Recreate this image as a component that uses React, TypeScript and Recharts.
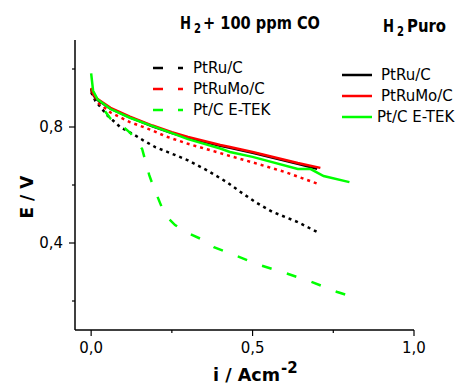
import { LineChart, Line, XAxis, YAxis, Customized } from 'recharts'

// [i (A cm-2), E (V)]
const ptRuPuro = [
  [0, 0.932], [0.008, 0.908], [0.02, 0.893], [0.06, 0.863], [0.12, 0.833], [0.19, 0.802],
  [0.25, 0.779], [0.3, 0.763], [0.4, 0.735], [0.43, 0.728], [0.5, 0.711], [0.64, 0.673], [0.7, 0.656],
]
const ptRuMoPuro = [
  [0, 0.935], [0.008, 0.91], [0.02, 0.896], [0.06, 0.866], [0.12, 0.836], [0.19, 0.805],
  [0.25, 0.782], [0.3, 0.766], [0.4, 0.738], [0.43, 0.731], [0.5, 0.714], [0.64, 0.676], [0.71, 0.659],
]
const ptEtekPuro = [
  [0, 0.985], [0.006, 0.925], [0.02, 0.895], [0.06, 0.862], [0.12, 0.832], [0.19, 0.803],
  [0.25, 0.779], [0.3, 0.758], [0.4, 0.726], [0.43, 0.714], [0.5, 0.697], [0.64, 0.655],
  [0.68, 0.655], [0.72, 0.631], [0.8, 0.61],
]
const ptRuCO = [
  [0, 0.92], [0.013, 0.89], [0.05, 0.84], [0.09, 0.8], [0.135, 0.772], [0.16, 0.755],
  [0.2, 0.73], [0.25, 0.708], [0.3, 0.685], [0.36, 0.65], [0.42, 0.61], [0.46, 0.578],
  [0.51, 0.54], [0.56, 0.508], [0.64, 0.472], [0.7, 0.438],
]
const ptRuMoCO = [
  [0, 0.925], [0.02, 0.885], [0.06, 0.85], [0.12, 0.817], [0.19, 0.788], [0.23, 0.768],
  [0.3, 0.742], [0.4, 0.71], [0.43, 0.7], [0.5, 0.678], [0.6, 0.645], [0.7, 0.605],
]
const ptEtekCO = [
  [0, 0.93], [0.02, 0.89], [0.059, 0.83], [0.1, 0.8], [0.121, 0.78], [0.139, 0.755],
  [0.158, 0.724], [0.18, 0.634], [0.192, 0.597], [0.22, 0.52], [0.238, 0.486], [0.26, 0.462],
  [0.3, 0.434], [0.34, 0.414], [0.38, 0.386], [0.44, 0.36], [0.52, 0.325], [0.6, 0.297],
  [0.68, 0.267], [0.76, 0.232], [0.8, 0.218],
]

const xTicks = [0, 0.25, 0.5, 0.75, 1.0]
const xMajor = [0, 0.5, 1.0]
const yTicks = [0.2, 0.4, 0.6, 0.8, 1.0]
const yMajor = [0.4, 0.8]

const legendCO = ['PtRu/C', 'PtRuMo/C', 'Pt/C E-TEK']
const legendPuro = ['PtRu/C', 'PtRuMo/C', 'Pt/C E-TEK']
const colors = ['#000000', '#ff0000', '#00ff00']

const toRows = (pts: number[][]) => pts.map(([i, e]) => ({ i, e }))
const fmt = (v: number) => v.toFixed(1).replace('.', ',')
const isMajor = (list: number[], v: number) => list.some((m) => Math.abs(m - v) < 1e-6)

const FONT = '"DejaVu Sans", sans-serif'

function XTick({ x, y, payload }: any) {
  const major = isMajor(xMajor, payload.value)
  return (
    <g>
      <line x1={x} x2={x} y1={y} y2={y + (major ? 6 : 3)} stroke="#000" strokeWidth={1.2} />
      {major && (
        <text x={x} y={y + 18} textAnchor="middle" dominantBaseline="central" fontSize={15} fontFamily={FONT} fill="#000">
          {fmt(payload.value)}
        </text>
      )}
    </g>
  )
}

function YTick({ x, y, payload }: any) {
  const major = isMajor(yMajor, payload.value)
  return (
    <g>
      <line x1={x} x2={x - (major ? 6 : 3)} y1={y} y2={y} stroke="#000" strokeWidth={1.2} />
      {major && (
        <text x={x - 12} y={y} textAnchor="end" dominantBaseline="central" fontSize={15} fontFamily={FONT} fill="#000">
          {fmt(payload.value)}
        </text>
      )}
    </g>
  )
}

function Annotations() {
  return (
    <g fontFamily={FONT} fill="#000" fontWeight="bold">
      {/* title over the CO legend */}
      <text x={180} y={29} fontSize={17} textLength={11} lengthAdjust="spacingAndGlyphs">H</text>
      <text x={194} y={33} fontSize={14} textLength={7} lengthAdjust="spacingAndGlyphs">2</text>
      <text x={203} y={29} fontSize={17} textLength={117} lengthAdjust="spacingAndGlyphs">+ 100 ppm CO</text>
      {/* title over the pure H2 legend */}
      <text x={383} y={32} fontSize={17} textLength={11} lengthAdjust="spacingAndGlyphs">H</text>
      <text x={397} y={36} fontSize={14} textLength={7} lengthAdjust="spacingAndGlyphs">2</text>
      <text x={407} y={32} fontSize={17} textLength={39} lengthAdjust="spacingAndGlyphs">Puro</text>
      <g fontWeight="normal">
        {legendCO.map((label, k) => (
          <g key={'co' + k}>
            <line x1={153} x2={183} y1={68 + k * 21} y2={68 + k * 21} stroke={colors[k]} strokeWidth={2.5} strokeDasharray="10 15" />
            <text x={193} y={68 + k * 21} fontSize={15} dominantBaseline="central">{label}</text>
          </g>
        ))}
        {legendPuro.map((label, k) => (
          <g key={'p' + k}>
            <line x1={342} x2={372} y1={75 + k * 21} y2={75 + k * 21} stroke={colors[k]} strokeWidth={2.5} />
            <text x={k === 2 ? 377 : 381} y={75 + k * 21} fontSize={15} dominantBaseline="central">{label}</text>
          </g>
        ))}
      </g>
      <text x={27} y={197} fontSize={17} textAnchor="middle" dominantBaseline="central" transform="rotate(-90 27 197)">
        E / V
      </text>
      <text x={213} y={381} fontSize={17} textLength={67} lengthAdjust="spacingAndGlyphs">i / Acm</text>
      <text x={281} y={373} fontSize={15}>-2</text>
    </g>
  )
}

export default function App() {
  return (
    <div style={{ position: 'absolute', left: 0, top: 0, background: '#fff' }}>
      <LineChart width={461} height={385} margin={{ top: 40, right: 47, bottom: 0, left: 0 }}>
        <XAxis
          type="number"
          dataKey="i"
          domain={[-0.05, 1.0]}
          ticks={xTicks}
          allowDataOverflow
          height={55}
          tickSize={0}
          tickMargin={0}
          tickLine={false}
          axisLine={{ stroke: '#000', strokeWidth: 1.5 }}
          tick={<XTick />}
          interval={0}
        />
        <YAxis
          type="number"
          dataKey="e"
          domain={[0.1, 1.1]}
          ticks={yTicks}
          allowDataOverflow
          width={75}
          tickSize={0}
          tickMargin={0}
          tickLine={false}
          axisLine={{ stroke: '#000', strokeWidth: 1.5 }}
          tick={<YTick />}
          interval={0}
        />
        <Line data={toRows(ptRuCO)} dataKey="e" stroke="#000" strokeWidth={2.5} strokeDasharray="3 4" dot={false} isAnimationActive={false} />
        <Line data={toRows(ptRuMoCO)} dataKey="e" stroke="#ff0000" strokeWidth={2.5} strokeDasharray="3 4" dot={false} isAnimationActive={false} />
        <Line data={toRows(ptEtekCO)} dataKey="e" stroke="#00ff00" strokeWidth={2.5} strokeDasharray="10 16" dot={false} isAnimationActive={false} />
        <Line data={toRows(ptRuPuro)} dataKey="e" stroke="#000" strokeWidth={2.5} dot={false} isAnimationActive={false} />
        <Line data={toRows(ptRuMoPuro)} dataKey="e" stroke="#ff0000" strokeWidth={2.5} dot={false} isAnimationActive={false} />
        <Line data={toRows(ptEtekPuro)} dataKey="e" stroke="#00ff00" strokeWidth={2.5} dot={false} isAnimationActive={false} />
        <Customized component={<Annotations />} />
      </LineChart>
    </div>
  )
}
